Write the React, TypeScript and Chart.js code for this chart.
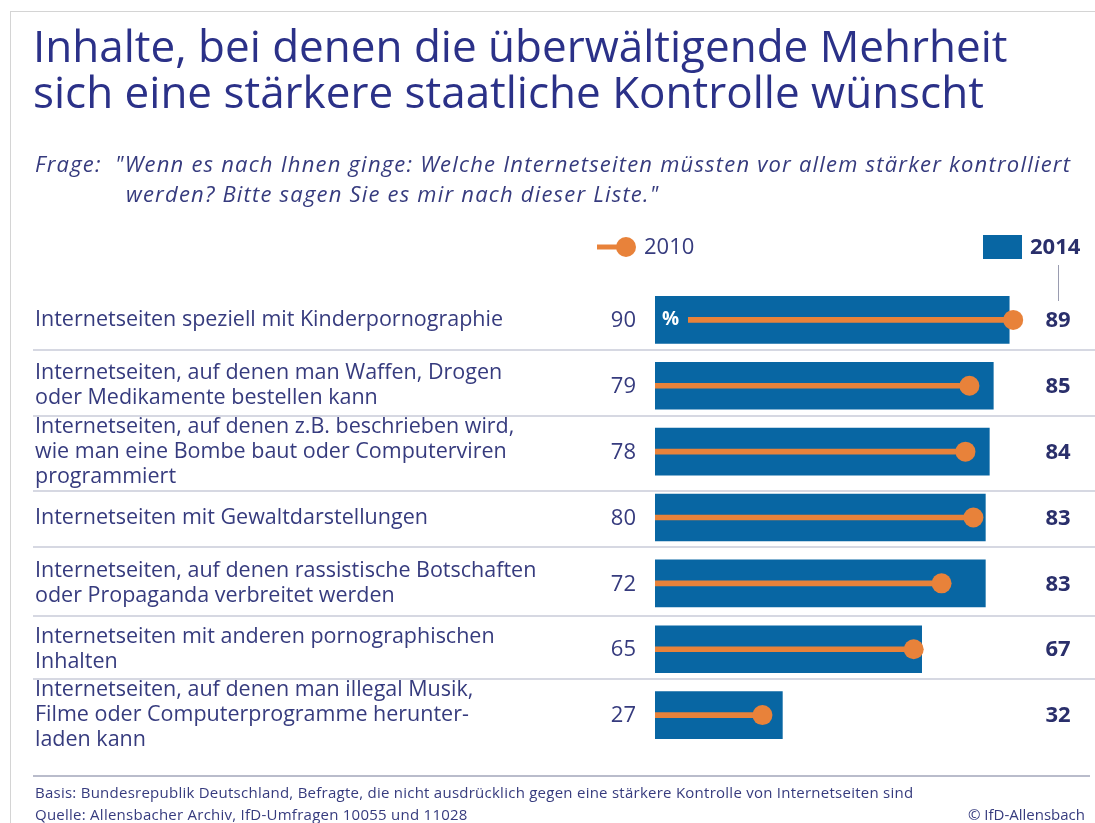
import React, { useEffect, useRef } from 'react';
import { Chart, registerables } from 'chart.js';

Chart.register(...registerables);

const categories: string[][] = [
  ['Internetseiten speziell mit Kinderpornographie'],
  ['Internetseiten, auf denen man Waffen, Drogen', 'oder Medikamente bestellen kann'],
  ['Internetseiten, auf denen z.B. beschrieben wird,', 'wie man eine Bombe baut oder Computerviren', 'programmiert'],
  ['Internetseiten mit Gewaltdarstellungen'],
  ['Internetseiten, auf denen rassistische Botschaften', 'oder Propaganda verbreitet werden'],
  ['Internetseiten mit anderen pornographischen', 'Inhalten'],
  ['Internetseiten, auf denen man illegal Musik,', 'Filme oder Computerprogramme herunter-', 'laden kann'],
];
const values2014: number[] = [89, 85, 84, 83, 83, 67, 32];
const values2010: number[] = [90, 79, 78, 80, 72, 65, 27];
const seriesLabels: string[] = ['2010', '2014'];

const titleLines: string[] = [
  'Inhalte, bei denen die überwältigende Mehrheit',
  'sich eine stärkere staatliche Kontrolle wünscht',
];
const questionLabel = 'Frage:';
const questionLines: string[] = [
  '"Wenn es nach Ihnen ginge: Welche Internetseiten müssten vor allem stärker kontrolliert',
  'werden? Bitte sagen Sie es mir nach dieser Liste."',
];
const footerLines: string[] = [
  'Basis: Bundesrepublik Deutschland, Befragte, die nicht ausdrücklich gegen eine stärkere Kontrolle von Internetseiten sind',
  'Quelle: Allensbacher Archiv, IfD-Umfragen 10055 und 11028',
];
const copyright = '© IfD-Allensbach';

const BAR = '#0866a3';
const ORANGE = '#e8823a';
const TEXT = '#363b7e';
const TITLE = '#2b3188';
const VAL = '#2a2f6b';
const SEP = '#c9cbd8';
const FONT = '"Open Sans", "DejaVu Sans", sans-serif';

const overlayPlugin = {
  id: 'overlay',
  beforeDatasetsDraw(chart: any) {
    const { ctx, scales } = chart;
    const y = scales.y;
    ctx.save();
    ctx.strokeStyle = SEP;
    ctx.lineWidth = 1.5;
    for (let i = 0; i < categories.length - 1; i++) {
      const mid = (y.getPixelForValue(i) + y.getPixelForValue(i + 1)) / 2;
      const shift = 3 * (categories[i].length - categories[i + 1].length);
      const yy = Math.round(mid + shift);
      ctx.beginPath();
      ctx.moveTo(33, yy);
      ctx.lineTo(chart.width, yy);
      ctx.stroke();
    }
    ctx.restore();
  },
  afterDatasetsDraw(chart: any) {
    const { ctx, chartArea, scales } = chart;
    const y = scales.y;
    ctx.save();
    // % marker in first bar
    const y0 = y.getPixelForValue(0);
    ctx.fillStyle = BAR;
    ctx.fillRect(chartArea.left, y0 - 5, 33, 10);
    ctx.fillStyle = '#ffffff';
    ctx.font = `bold 19px ${FONT}`;
    ctx.textAlign = 'left';
    ctx.textBaseline = 'middle';
    ctx.fillText('%', chartArea.left + 7, y0);

    // 2010 values
    ctx.font = `22px ${FONT}`;
    ctx.fillStyle = TEXT;
    ctx.textAlign = 'right';
    values2010.forEach((v, i) => {
      ctx.fillText(String(v), 636, y.getPixelForValue(i) + 1);
    });
    // 2014 values
    ctx.font = `bold 22px ${FONT}`;
    ctx.fillStyle = VAL;
    ctx.textAlign = 'center';
    values2014.forEach((v, i) => {
      ctx.fillText(String(v), 1058, y.getPixelForValue(i) + 1);
    });

    // legend 2010
    ctx.strokeStyle = ORANGE;
    ctx.lineWidth = 5;
    ctx.beginPath();
    ctx.moveTo(597, 247);
    ctx.lineTo(626, 247);
    ctx.stroke();
    ctx.fillStyle = ORANGE;
    ctx.beginPath();
    ctx.arc(626, 247, 10, 0, Math.PI * 2);
    ctx.fill();
    ctx.fillStyle = TEXT;
    ctx.font = `22px ${FONT}`;
    ctx.textAlign = 'left';
    ctx.fillText(seriesLabels[0], 644, 248);
    // legend 2014
    ctx.fillStyle = BAR;
    ctx.fillRect(983, 235, 39, 24);
    ctx.fillStyle = VAL;
    ctx.font = `bold 22px ${FONT}`;
    ctx.fillText(seriesLabels[1], 1030, 248);
    // connector
    ctx.strokeStyle = '#9a9cb0';
    ctx.lineWidth = 1;
    ctx.beginPath();
    ctx.moveTo(1058.5, 265);
    ctx.lineTo(1058.5, 301);
    ctx.stroke();
    ctx.restore();
  },
};

function ChartCanvas() {
  const ref = useRef<HTMLCanvasElement | null>(null);
  useEffect(() => {
    if (!ref.current) return;
    const chart = new Chart(ref.current, {
      type: 'bar',
      data: {
        labels: categories,
        datasets: [
          {
            type: 'line',
            label: seriesLabels[0] + ' dots',
            data: values2010,
            showLine: false,
            pointRadius: 10,
            pointHoverRadius: 10,
            pointBackgroundColor: ORANGE,
            pointBorderWidth: 0,
            borderColor: ORANGE,
            indexAxis: 'y',
            order: 1,
          } as any,
          {
            label: seriesLabels[0],
            data: values2010,
            backgroundColor: ORANGE,
            barThickness: 5,
            grouped: false,
            order: 2,
          },
          {
            label: seriesLabels[1],
            data: values2014,
            backgroundColor: BAR,
            barThickness: 47,
            grouped: false,
            order: 3,
          },
        ],
      },
      options: {
        indexAxis: 'y',
        responsive: false,
        animation: false,
        devicePixelRatio: 1,
        layout: { padding: { top: 287, bottom: 75, left: 35, right: 42 } },
        plugins: { legend: { display: false }, tooltip: { enabled: false }, title: { display: false } },
        scales: {
          x: { type: 'linear', min: 0, max: 100, display: false },
          y: {
            type: 'category',
            grid: { display: false },
            border: { display: false },
            afterFit: (scale: any) => {
              scale.width = 620;
            },
            ticks: {
              autoSkip: false,
              crossAlign: 'far',
              padding: 0,
              color: TEXT,
              font: { family: FONT, size: 21.5, lineHeight: '25px' },
            },
          },
        },
      },
      plugins: [overlayPlugin],
    } as any);
    return () => chart.destroy();
  }, []);
  return <canvas ref={ref} width={1095} height={823} style={{ position: 'absolute', left: 0, top: 0 }} />;
}

export default function App() {
  const q = { fontSize: 22, lineHeight: '30px', color: TEXT, fontStyle: 'italic' as const, letterSpacing: '1.2px', whiteSpace: 'nowrap' as const };
  return (
    <div style={{ position: 'absolute', left: 0, top: 0, width: 1095, height: 823, background: '#fff', overflow: 'hidden', fontFamily: FONT }}>
      <div style={{ position: 'absolute', left: 10, top: 11, width: 1085, height: 812, borderLeft: '1.5px solid #d4d4d4', borderTop: '1.5px solid #d4d4d4' }} />
      <ChartCanvas />
      <div style={{ position: 'absolute', left: 33, top: 22, fontSize: 44, lineHeight: '46px', color: TITLE, whiteSpace: 'pre' }}>
        {titleLines.join('\n')}
      </div>
      <div style={{ position: 'absolute', left: 35, top: 148, ...q }}>
        {questionLabel}
      </div>
      <div style={{ position: 'absolute', left: 115, top: 148, ...q }}>
        {questionLines[0]}
      </div>
      <div style={{ position: 'absolute', left: 126, top: 178, ...q }}>
        {questionLines[1]}
      </div>
      <div style={{ position: 'absolute', left: 33, top: 775, width: 1057, borderTop: '2px solid #b9bccb' }} />
      <div style={{ position: 'absolute', left: 35, top: 781, fontSize: 15, lineHeight: '22px', letterSpacing: '0.25px', color: TEXT, whiteSpace: 'pre' }}>
        {footerLines.join('\n')}
      </div>
      <div style={{ position: 'absolute', right: 10, top: 803, fontSize: 15, lineHeight: '22px', color: TEXT, whiteSpace: 'nowrap' }}>
        {copyright}
      </div>
    </div>
  );
}
